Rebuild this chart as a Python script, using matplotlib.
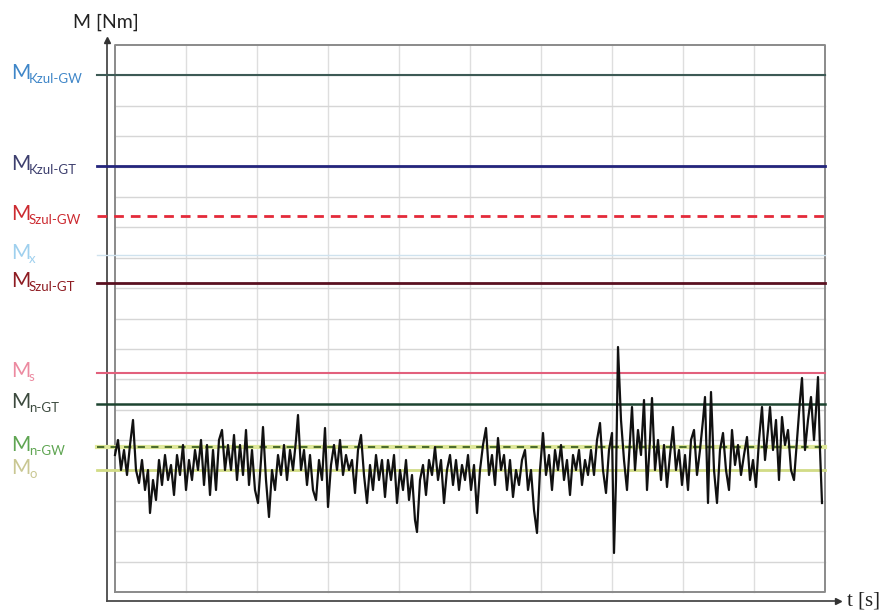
import numpy as np
import matplotlib
matplotlib.use("Agg")
import matplotlib.pyplot as plt
from matplotlib.transforms import blended_transform_factory

# ---- measured torque signal (time in 10 ms steps, torque in Nm) ----
t = [8, 11, 14, 17, 20, 23, 26, 29, 32, 35, 38, 41, 43, 46, 49, 52, 55, 58, 61, 64,
     67, 70, 73, 76, 79, 82, 85, 88, 91, 94, 97, 100, 103, 106, 109, 112, 115, 118, 121,
     124, 127, 130, 133, 136, 139, 142, 145, 148, 151, 154, 156, 159, 162, 165, 168, 171,
     174, 177, 180, 183, 186, 189, 191, 194, 197, 200, 203, 206, 209, 212, 215, 218, 221,
     224, 227, 230, 233, 236, 239, 242,
     245, 248, 251, 254, 257, 260, 263, 266, 269, 272, 275, 278, 281, 284, 287, 290, 293,
     296, 299, 302, 305, 308, 310, 313, 316, 319, 322, 325, 328, 331, 334, 337, 340, 343,
     346, 349, 352, 355, 358, 361,
     364, 367, 370, 373, 376, 379, 382, 385, 388, 391, 394, 397, 400, 403, 406, 409, 412,
     415, 418, 421, 424, 427, 430, 433, 436, 439, 442, 445, 448, 451, 454, 457, 460, 463,
     466, 469, 472, 475, 478, 481,
     484, 487, 490, 493, 496, 499, 502, 505, 507, 509, 511, 514, 517, 520, 523, 525, 528,
     531, 534, 537, 540, 543, 545, 548, 551, 554, 557, 560, 563, 566, 569, 572, 575, 578,
     581, 584, 587, 590, 593, 596, 598, 601,
     604, 607, 610, 613, 616, 619, 622, 625, 628, 631, 634, 637, 640, 643, 646, 649, 652,
     655, 658, 661, 663, 666, 669, 672, 675, 678, 681, 684, 687, 690, 693, 695, 698, 701,
     704, 707, 709, 711, 713, 715]

m = [143, 158, 128, 148, 123, 153, 178, 128, 115, 138, 108, 128, 85, 118, 98, 138, 113, 143, 118, 133,
     103, 143, 123, 153, 108, 138, 118, 148, 128, 158, 113, 153, 103, 148, 108, 158, 168, 128, 153,
     128, 163, 118, 153, 123, 168, 113, 148, 108, 95, 138, 171, 118, 81, 128, 108, 143,
     123, 153, 118, 148, 128, 158, 183, 128, 148, 113, 143, 108, 98, 138, 118, 170, 91,
     133, 153, 128, 158, 123, 143, 128,
     138, 105, 148, 163, 123, 95, 133, 108, 143, 118, 138, 101, 138, 118, 143, 95, 128,
     108, 138, 98, 123, 78, 66, 118, 133, 103, 138, 123, 151, 118, 138, 95, 128, 143,
     113, 138, 108, 133, 118, 143,
     108, 133, 85, 128, 153, 170, 123, 143, 113, 160, 128, 143, 108, 138, 101, 128, 113,
     138, 148, 108, 128, 88, 65, 128, 165, 123, 143, 108, 148, 128, 153, 118, 138, 103,
     143, 128, 148, 113, 138, 123,
     148, 123, 158, 175, 128, 105, 148, 165, 45, 118, 251, 178, 138, 108, 158, 191, 128,
     168, 143, 198, 108, 158, 200, 128, 158, 118, 153, 111, 143, 171, 128, 148, 113, 143,
     108, 158, 168, 123, 148, 178, 201, 95,
     206, 128, 95, 148, 165, 128, 108, 168, 133, 153, 123, 143, 161, 118, 138, 111, 158,
     191, 138, 168, 191, 148, 178, 118, 181, 153, 168, 128, 118, 158, 198, 220, 148, 178,
     201, 158, 188, 221, 148, 95]

# ---- reference torque levels ----
level_subscripts = ["Kzul-GW", "Kzul-GT", "Szul-GW", "x", "Szul-GT", "s", "n-GT", "n-GW", "o"]
level_values = [523, 432, 382, 343, 315, 225, 194, 151, 128]

level_label_colors = ["#3f86c8", "#3d3f6e", "#cc2a30", "#9fd0ee", "#8e1c22",
                      "#ec8aa0", "#3c4a3e", "#5fa552", "#c9c792"]
level_line_colors = ["#3d5a55", "#24257c", "#e42a3a", "#cfe2ee", "#5a1020",
                     "#e2607c", "#1d4430", "#4d6e2c", "#d2dc86"]
level_styles = ["-", "-", (0, (3.5, 2.5)), "-", "-", "-", "-", (0, (3.5, 3)), "-"]
level_widths = [1.5, 2.0, 2.0, 1.0, 2.0, 1.5, 1.8, 1.5, 2.0]

W, H = 888, 614
fig = plt.figure(figsize=(W / 100, H / 100), dpi=100)
fig.patch.set_facecolor("white")

# axes: left spine at x=107 px, bottom spine at y=601 px
ax = fig.add_axes([107 / W, (H - 601) / H, 731 / W, (601 - 40) / H])
ax.set_xlim(0, 731)
ax.set_ylim(-3, 558)
ax.set_xticks([])
ax.set_yticks([])
for side in ("top", "right"):
    ax.spines[side].set_visible(False)
for side in ("left", "bottom"):
    ax.spines[side].set_color("#4a4a4a")
    ax.spines[side].set_linewidth(1.3)

# inner plotting frame and grid
fx0, fx1, fy0, fy1 = 8, 718, 6, 553
for gx in np.linspace(fx0, fx1, 11)[1:-1]:
    ax.plot([gx, gx], [fy0, fy1], color="#dedede", lw=1.0, zorder=1)
for gy in np.linspace(fy0, fy1, 19)[1:-1]:
    ax.plot([fx0, fx1], [gy, gy], color="#d6d6d6", lw=1.0, zorder=1)
ax.plot([fx0, fx1, fx1, fx0, fx0], [fy0, fy0, fy1, fy1, fy0], color="#8a8a8a", lw=1.4, zorder=2)

# reference levels
for val, col, ls, lw in zip(level_values, level_line_colors, level_styles, level_widths):
    if ls != "-" and col == "#4d6e2c":
        ax.plot([-10, fx1], [val, val], color="#dfe89a", lw=3.0, zorder=3, clip_on=False)
    ax.plot([-10, fx1], [val, val], color=col, lw=lw, ls=ls, zorder=3, clip_on=False)

# torque signal
ax.plot(t, m, color="#111111", lw=1.6, zorder=5)

# level labels
tr = blended_transform_factory(fig.transFigure, ax.transData)
for name, val, col in zip(level_subscripts, level_values, level_label_colors):
    ax.text(11 / W, val - 4, "M", transform=tr, color=col, fontsize=15,
            family="Lato", va="baseline", ha="left", clip_on=False)
    ax.text(29 / W, val - 8, name, transform=tr, color=col, fontsize=9.5,
            family="Lato", va="baseline", ha="left", clip_on=False)

# axis arrows and titles
ax.plot([0], [558], marker="^", ms=4, color="#333333", clip_on=False, zorder=6)
ax.plot([731], [-3], marker=">", ms=5, color="#333333", clip_on=False, zorder=6)
fig.text(106 / W, 1 - 22 / H, "M [Nm]", fontsize=14, family="Lato",
         ha="center", va="center", color="#222222")
fig.text(847 / W, 1 - 601 / H, "t [s]", fontsize=15, family="Liberation Serif",
         ha="left", va="center", color="#222222")

fig.savefig("out.png", dpi=100, facecolor="white")
